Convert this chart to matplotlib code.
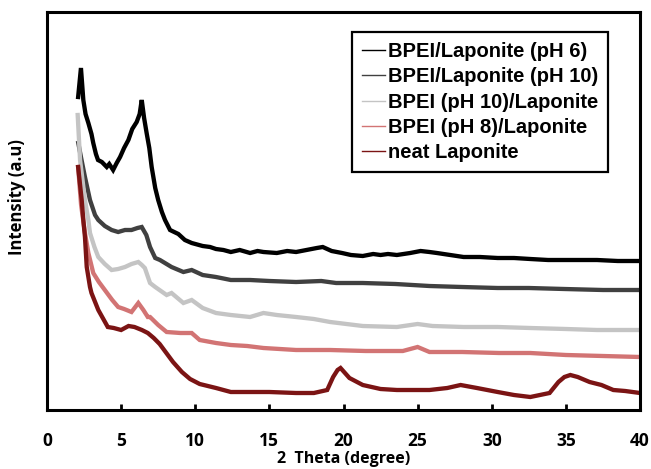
import matplotlib
matplotlib.use("Agg")
import matplotlib.pyplot as plt

# ---- data (2 theta in degrees, intensity in arbitrary units) ----
labels = ["BPEI/Laponite (pH 6)", "BPEI/Laponite (pH 10)", "BPEI (pH 10)/Laponite",
          "BPEI (pH 8)/Laponite", "neat Laponite"]
colors = ["#000000", "#404040", "#c4c4c4", "#d27474", "#7b1414"]

x_ph6 = [2.1, 2.29, 2.45, 2.6, 2.79, 3.0, 3.12, 3.3, 3.44, 3.7, 4.03, 4.2, 4.46, 4.7, 4.93, 5.2,
         5.49, 5.75, 6.05, 6.25, 6.39, 6.55, 6.72, 6.9, 7.06, 7.3, 7.5, 7.75, 7.96, 8.3, 8.86, 9.3,
         9.76, 10.5, 11.0, 11.4, 11.9, 12.4, 13.0, 13.7, 14.2, 14.6, 15.5, 16.2, 16.8, 17.5, 18.2,
         18.6, 19.2, 19.9, 20.5, 21.3, 22.0, 22.5, 23.0, 23.6, 24.5, 25.2, 25.8, 26.3, 27.2, 28.1,
         29.2, 30.4, 31.5, 32.6, 33.8, 34.9, 36.0, 37.1, 38.5, 40.0]
y_ph6 = [313, 342, 310, 296, 287, 276, 267, 256, 250, 248, 243, 246, 240, 247, 253, 262,
         270, 281, 288, 296, 310, 292, 277, 262, 243, 222, 210, 198, 190, 180, 176, 170,
         167, 164, 163, 161, 160, 158, 160, 157, 159, 158, 157, 159, 158, 160, 162,
         163, 159, 157, 155, 154, 156, 155, 156, 155, 157, 159, 158, 157, 155, 153,
         153, 152, 152, 151, 150, 150, 150, 150, 149, 149]

x_ph10 = [2.11, 2.29, 2.56, 2.9, 3.24, 3.46, 3.9, 4.36, 4.8, 5.26, 5.7, 6.1, 6.39, 6.7, 6.95,
          7.3, 7.62, 8.4, 9.2, 9.76, 10.5, 11.4, 12.4, 13.7, 15.0, 16.8, 18.5, 19.5, 21.3, 23.5,
          25.8, 28.0, 30.4, 32.5, 34.9, 37.5, 40.0]
y_ph10 = [267, 253, 233, 210, 195, 190, 184, 180, 178, 180, 180, 182, 183, 175, 163,
          152, 150, 143, 138, 140, 135, 133, 130, 130, 129, 128, 129, 127, 127, 126,
          124, 123, 122, 122, 121, 120, 120]

x_b10 = [2.07, 2.23, 2.56, 2.79, 2.9, 3.2, 3.46, 3.9, 4.36, 4.8, 5.26, 5.7, 6.16, 6.4, 6.6,
         6.95, 7.3, 8.07, 8.4, 9.2, 9.76, 10.5, 11.4, 12.4, 13.7, 14.6, 15.5, 16.8, 18.0, 19.1,
         20.2, 21.3, 23.6, 25.0, 26.0, 28.1, 30.4, 32.6, 35.0, 37.1, 40.0]
y_b10 = [295, 250, 210, 190, 177, 163, 153, 146, 140, 141, 143, 146, 148, 145, 142,
         127, 123, 115, 117, 107, 110, 102, 97, 95, 93, 97, 95, 93, 91, 88,
         86, 84, 83, 86, 84, 83, 83, 82, 81, 80, 80]

x_b8 = [2.1, 2.3, 2.56, 2.79, 3.12, 3.5, 3.9, 4.4, 4.8, 5.2, 5.7, 6.16, 6.5, 6.8, 6.95, 7.5,
        8.07, 9.0, 9.76, 10.3, 11.4, 12.4, 13.5, 14.6, 16.8, 19.1, 21.5, 24.0, 25.0, 25.8,
        28.0, 30.5, 32.6, 35.0, 37.5, 40.0]
y_b8 = [243, 205, 177, 157, 137, 128, 120, 110, 103, 101, 98, 107, 100, 93, 93, 85,
        78, 77, 77, 70, 67, 65, 64, 62, 60, 60, 59, 59, 63, 58,
        58, 57, 57, 55, 54, 53]

x_neat = [2.1, 2.34, 2.45, 2.56, 2.68, 2.9, 3.0, 3.46, 4.1, 4.5, 5.0, 5.5, 5.9, 6.4, 6.8, 7.2,
          7.6, 8.0, 8.5, 9.1, 9.65, 10.3, 11.4, 12.4, 13.7, 15.0, 16.8, 18.0, 18.9, 19.3, 19.6,
          19.8, 20.1, 20.4, 21.3, 22.5, 23.6, 25.8, 27.0, 27.9, 29.0, 30.4, 31.5, 32.6, 33.9,
          34.5, 34.9, 35.3, 35.8, 36.6, 37.4, 38.2, 39.0, 40.0]
y_neat = [243, 210, 190, 173, 143, 123, 117, 100, 83, 82, 80, 84, 83, 80, 77, 72,
          66, 58, 48, 38, 31, 26, 22, 18, 18, 18, 17, 17, 20, 33, 40,
          42, 37, 32, 25, 21, 20, 20, 22, 25, 22, 18, 15, 13, 17,
          28, 33, 35, 33, 28, 25, 20, 19, 17]

xticks = [0, 5, 10, 15, 20, 25, 30, 35, 40]

series = [(x_ph6, y_ph6), (x_ph10, y_ph10), (x_b10, y_b10), (x_b8, y_b8), (x_neat, y_neat)]

fig = plt.figure(figsize=(6.51, 4.69), dpi=100)
ax = fig.add_axes([47 / 651, 1 - 410 / 469, 593 / 651, 398 / 469])

for (xs, ys), c, lab in zip(series, colors, labels):
    ax.plot(xs, ys, color=c, lw=3.1, label=lab, solid_joinstyle="miter")

ax.set_xlim(0, 40)
ax.set_ylim(0, 398)
ax.set_yticks([])
ax.set_xticks(xticks)
ax.set_xticklabels([str(t) for t in xticks], fontfamily="Open Sans", fontweight="bold", fontsize=12.5)
ax.tick_params(axis="x", direction="in", length=4, width=2, pad=16)
for s in ax.spines.values():
    s.set_linewidth(2.2)

ax.set_xlabel("2  Theta (degree)", fontfamily="Open Sans", fontweight="bold", fontsize=11.5)
ax.xaxis.set_label_coords(0.5, -41 / 398)
ax.set_ylabel("Intensity (a.u)", fontfamily="Open Sans", fontweight="bold", fontsize=12)
ax.yaxis.set_label_coords(-21 / 593, (410 - 197) / 398)

leg = ax.legend(loc="upper right", bbox_to_anchor=((608 - 47) / 593, (410 - 32) / 398),
                prop={"family": "Liberation Sans", "weight": "bold", "size": 14.5},
                handlelength=1.15, handletextpad=0.12, labelspacing=0.31, borderpad=0.5,
                fancybox=False, framealpha=1, edgecolor="black", borderaxespad=0)
leg.get_frame().set_linewidth(1.6)
for h in leg.get_lines():
    h.set_linewidth(1.0)

fig.savefig("out.png", dpi=100)
